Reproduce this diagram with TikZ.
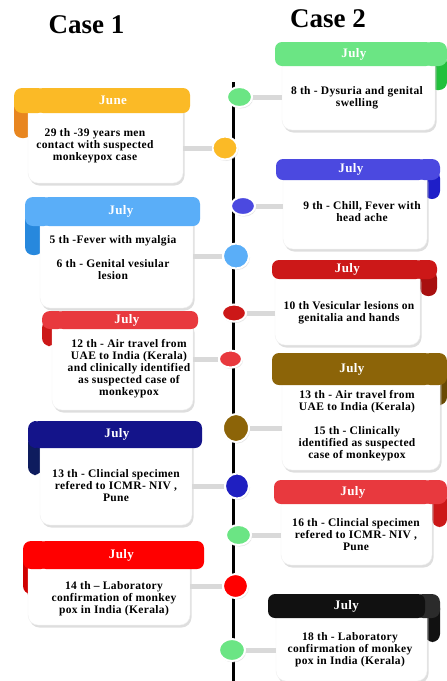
\documentclass[tikz,border=0pt]{standalone}
\usepackage{xcolor}
\usepackage{fontspec}
\setmainfont{Liberation Serif}
\newfontfamily\notefont{Liberation Serif}[LetterSpace=3]
\usepackage{tikz}
\usetikzlibrary{shapes.geometric,shadows}

\definecolor{june}{HTML}{FBBA26}
\definecolor{juneFold}{HTML}{E88620}
\definecolor{sky}{HTML}{5AAEF8}
\definecolor{skyFold}{HTML}{2788DD}
\definecolor{rose}{HTML}{E8393E}
\definecolor{roseFold}{HTML}{CC1818}
\definecolor{navy}{HTML}{14148A}
\definecolor{navyFold}{HTML}{0E1C5E}
\definecolor{scarlet}{HTML}{FF0000}
\definecolor{scarletFold}{HTML}{D00000}
\definecolor{mint}{HTML}{6BE584}
\definecolor{mintFold}{HTML}{22C03C}
\definecolor{iris}{HTML}{4B49E0}
\definecolor{irisFold}{HTML}{1E1EC8}
\definecolor{crimson}{HTML}{CC1818}
\definecolor{crimsonFold}{HTML}{A81010}
\definecolor{ochre}{HTML}{8C6408}
\definecolor{ochreFold}{HTML}{6A4B04}
\definecolor{ink}{HTML}{111111}
\definecolor{inkFold}{HTML}{2B2B2B}
\definecolor{dotMint}{HTML}{6BE584}
\definecolor{dotNavy}{HTML}{1F1FC1}

\tikzset{
  every picture/.style = {
    x = 1pt,
    y = -1pt,
  }
  ,
  timeline/.style = {
    line width = 3pt,
    draw = black
  }
  , % month ribbons
  band/.style = {
    rectangle,
    rounded corners = 7pt,
    inner sep = 0pt,
    text = white,
    font = \notefont\bfseries\fontsize{13}{14}\selectfont
  }
  , % white cards
  card/.style = {
    rectangle,
    rounded corners = 10pt,
    fill = white,
    draw = black!6,
    drop shadow = {shadow xshift = 1.5pt, shadow yshift = -2.5pt, fill = black!25}
  }
  ,
  note/.style = {
    align = center,
    inner sep = 0pt,
    font = \notefont\bfseries\fontsize{11.5}{12}\selectfont
  }
  ,
  link/.style = {
    line width = 5pt,
    draw = black!15
  }
  ,
  dot/.style = {
    ellipse,
    draw = white,
    line width = 2pt,
    inner sep = 0pt,
    drop shadow = {shadow xshift = 1pt, shadow yshift = -1.5pt, fill = black!20}
  }
  ,
  title/.style = {
    inner sep = 0pt,
    font = \bfseries\fontsize{27}{30}\selectfont
  }
}

\begin{document}
\begin{tikzpicture}
\path[use as bounding box, fill = white] (0,0) rectangle (447,681);

\node[title] (case1) at (86.5,25) {Case 1};
\node[title] (case2) at (328,19) {Case 2};

\coordinate (top) at (233,82);
\coordinate (bottom) at (233,681);
\draw[timeline] (top) -- (bottom);

% case 1
\fill[juneFold, rounded corners = 8pt] (14,100) rectangle (32,138);
\node[card, minimum width = 155pt, minimum height = 83pt] (cardA) at (105.5,141.5) {};
\fill[june, rounded corners = 8pt] (14,88) rectangle (46,113);
\node[band, fill = june, minimum width = 154pt, minimum height = 25pt] (bandA) at (113,100.5) {June};
\node[note] (noteA) at (95,146) {29 th -39 years men\\contact with suspected\\monkeypox case};

\fill[skyFold, rounded corners = 8pt] (25,210) rectangle (43,255);
\node[card, minimum width = 153pt, minimum height = 98pt] (cardB) at (116.5,259) {};
\fill[sky, rounded corners = 8pt] (25,197) rectangle (52,226);
\node[band, fill = sky, minimum width = 158pt, minimum height = 29pt] (bandB) at (121,211.5) {July};
\node[note] (noteB) at (113,258) {5 th -Fever with myalgia\\[12pt]6 th - Genital vesiular\\lesion};

\fill[roseFold, rounded corners = 8pt] (42,320) rectangle (56,346);
\node[card, minimum width = 141pt, minimum height = 90pt] (cardC) at (122.5,365) {};
\fill[rose, rounded corners = 8pt] (42,311) rectangle (66,329);
\node[band, fill = rose, minimum width = 142pt, minimum height = 18pt] (bandC) at (127,320) {July};
\node[note] (noteC) at (129,369) {12 th - Air travel from\\UAE to India (Kerala)\\and clinically identified\\as suspected case of\\monkeypox};

\fill[navyFold, rounded corners = 8pt] (28,435) rectangle (42,475);
\node[card, minimum width = 152pt, minimum height = 90pt] (cardD) at (116,480) {};
\fill[navy, rounded corners = 8pt] (28,421) rectangle (42,448);
\node[band, fill = navy, minimum width = 170pt, minimum height = 27pt] (bandD) at (117,434.5) {July};
\node[note] (noteD) at (116,486) {13 th - Clincial specimen\\refered to ICMR- NIV ,\\Pune};

\fill[scarletFold, rounded corners = 8pt] (23,555) rectangle (35,594);
\node[card, minimum width = 162pt, minimum height = 70pt] (cardE) at (109,590) {};
\fill[scarlet, rounded corners = 8pt] (23,541) rectangle (49,569);
\node[band, fill = scarlet, minimum width = 165pt, minimum height = 28pt] (bandE) at (121.5,555) {July};
\node[note] (noteE) at (114,599) {14 th – Laboratory\\confirmation of monkey\\pox in India (Kerala)};

% case 2
\fill[mintFold, rounded corners = 8pt] (429,55) rectangle (447,90);
\node[card, minimum width = 153pt, minimum height = 75pt] (cardF) at (358.5,92.5) {};
\fill[mint, rounded corners = 8pt] (423,42) rectangle (447,66);
\node[band, fill = mint, minimum width = 158pt, minimum height = 24pt] (bandF) at (354,54) {July};
\node[note] (noteF) at (357,98) {8 th - Dysuria and genital\\swelling};

\fill[irisFold, rounded corners = 8pt] (424,170) rectangle (440,199);
\node[card, minimum width = 144pt, minimum height = 79pt] (cardG) at (355,209.5) {};
\fill[iris, rounded corners = 8pt] (416,159) rectangle (440,180);
\node[band, fill = iris, minimum width = 150pt, minimum height = 21pt] (bandG) at (351,169.5) {July};
\node[note] (noteG) at (362,211.5) {9 th - Chill, Fever with\\head ache};

\fill[crimsonFold, rounded corners = 8pt] (420,270) rectangle (437,296);
\node[card, minimum width = 145pt, minimum height = 75pt] (cardH) at (347.5,307.5) {};
\fill[crimson, rounded corners = 8pt] (413,260) rectangle (437,279);
\node[band, fill = crimson, minimum width = 151pt, minimum height = 19pt] (bandH) at (347.5,269.5) {July};
\node[note] (noteH) at (349,313) {10 th Vesicular lesions on\\genitalia and hands};

\fill[ochreFold, rounded corners = 8pt] (433,370) rectangle (447,405);
\node[card, minimum width = 158pt, minimum height = 100pt] (cardI) at (361,420) {};
\fill[ochre, rounded corners = 8pt] (422,353) rectangle (447,385);
\node[band, fill = ochre, minimum width = 160pt, minimum height = 32pt] (bandI) at (352,369) {July};
\node[note] (noteI) at (357,426) {13 th - Air travel from\\UAE to India (Kerala)\\[12pt]15 th - Clinically\\identified as suspected\\case of monkeypox};

\fill[roseFold, rounded corners = 8pt] (432,492) rectangle (447,527);
\node[card, minimum width = 151pt, minimum height = 73pt] (cardJ) at (356.5,528.5) {};
\fill[rose, rounded corners = 8pt] (422,480) rectangle (447,504);
\node[band, fill = rose, minimum width = 158pt, minimum height = 24pt] (bandJ) at (353,492) {July};
\node[note] (noteJ) at (356,535) {16 th - Clincial specimen\\refered to ICMR- NIV ,\\Pune};

\fill[ink, rounded corners = 8pt] (425,600) rectangle (440,642);
\node[card, minimum width = 151pt, minimum height = 76pt] (cardK) at (351.5,643) {};
\fill[inkFold, rounded corners = 8pt] (415,594) rectangle (440,618);
\node[band, fill = ink, minimum width = 157pt, minimum height = 24pt] (bandK) at (346.5,606) {July};
\node[note] (noteK) at (350,650) {18 th - Laboratory\\confirmation of monkey\\pox in India (Kerala)};

% dots on the line
\node[dot, fill = dotMint, minimum width = 25pt, minimum height = 20pt] (dotF) at (239.5,97) {};
\node[dot, fill = june, minimum width = 25pt, minimum height = 23pt] (dotA) at (225,148) {};
\node[dot, fill = iris, minimum width = 24pt, minimum height = 18pt] (dotG) at (243,206) {};
\node[dot, fill = sky, minimum width = 26pt, minimum height = 25pt] (dotB) at (236,256) {};
\node[dot, fill = crimson, minimum width = 24pt, minimum height = 17pt] (dotH) at (234,313) {};
\node[dot, fill = rose, minimum width = 23pt, minimum height = 17pt] (dotC) at (230.5,359) {};
\node[dot, fill = ochre, minimum width = 26pt, minimum height = 28pt] (dotI) at (236,428) {};
\node[dot, fill = dotNavy, minimum width = 24pt, minimum height = 25pt] (dotD) at (237,486) {};
\node[dot, fill = dotMint, minimum width = 25pt, minimum height = 20pt] (dotJ) at (238.5,535) {};
\node[dot, fill = scarlet, minimum width = 25pt, minimum height = 24pt] (dotE) at (235.5,586) {};
\node[dot, fill = dotMint, minimum width = 26pt, minimum height = 22pt] (dotK) at (232,650) {};

\draw[link] (dotA) -- (dotA -| cardA.east);
\draw[link] (dotB) -- (dotB -| cardB.east);
\draw[link] (dotC) -- (dotC -| cardC.east);
\draw[link] (dotD) -- (dotD -| cardD.east);
\draw[link] (dotE) -- (dotE -| cardE.east);
\draw[link] (dotF) -- (dotF -| cardF.west);
\draw[link] (dotG) -- (dotG -| cardG.west);
\draw[link] (dotH) -- (dotH -| cardH.west);
\draw[link] (dotI) -- (dotI -| cardI.west);
\draw[link] (dotJ) -- (dotJ -| cardJ.west);
\draw[link] (dotK) -- (dotK -| cardK.west);
\end{tikzpicture}
\end{document}
